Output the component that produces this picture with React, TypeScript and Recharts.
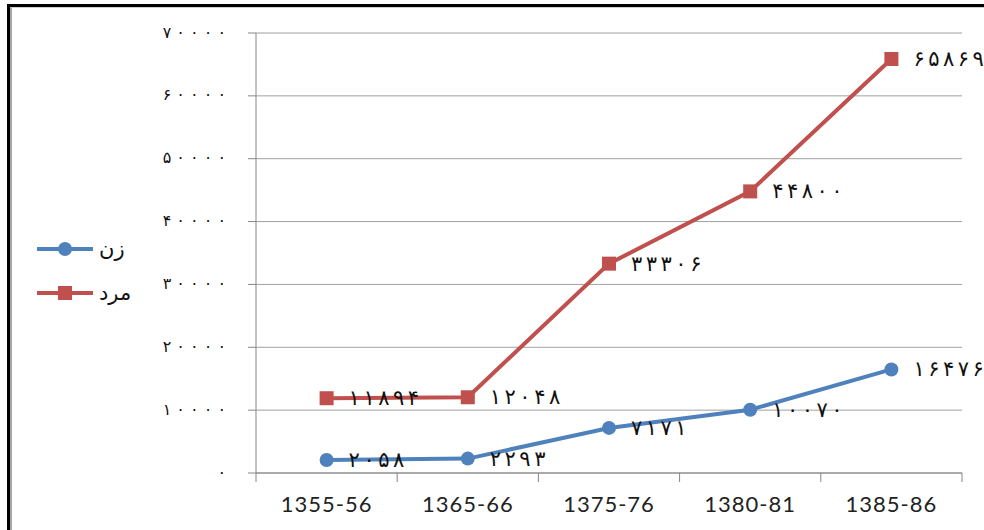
import { LineChart, Line, XAxis, YAxis, CartesianGrid, LabelList } from 'recharts';

const categories = ['1355-56', '1365-66', '1375-76', '1380-81', '1385-86'];
const women = [2058, 2293, 7171, 10070, 16476];
const men = [11894, 12048, 33306, 44800, 65869];
const yTicks = [0, 10000, 20000, 30000, 40000, 50000, 60000, 70000];

const seriesNames = { women: 'زن', men: 'مرد' };
const BLUE = '#4F81BD';
const RED = '#C0504D';

const data = categories.map((c, i) => ({ period: c, women: women[i], men: men[i] }));

// Persian digits, spread apart the way the original renders them
const toPersian = (n: number, gap: string) =>
    String(n).split('').map((d) => '۰۱۲۳۴۵۶۷۸۹'[+d]).join(gap);

const PLOT_WIDTH = 706;
const HALF_BAND = PLOT_WIDTH / categories.length / 2;

function XTick(props: any) {
    const { x, y, payload, index } = props;
    return (
        <g>
            <line x1={x - HALF_BAND} y1={y} x2={x - HALF_BAND} y2={y + 9} stroke="#868686" />
            {index === categories.length - 1 && (
                <line x1={x + HALF_BAND} y1={y} x2={x + HALF_BAND} y2={y + 9} stroke="#868686" />
            )}
            <text x={x} y={y + 33} textAnchor="middle" dominantBaseline="middle"
                fontFamily="Lato, 'Open Sans', sans-serif" fontSize={22} style={{ letterSpacing: '1px' }} fill="#222">
                {payload.value}
            </text>
        </g>
    );
}

function YTick(props: any) {
    const { x, y, payload } = props;
    return (
        <text x={x} y={y} textAnchor="end" dominantBaseline="middle"
            fontFamily="'DejaVu Sans', sans-serif" fontSize={16} fill="#111">
            {toPersian(payload.value, ' ')}
        </text>
    );
}

function PointLabel(props: any) {
    const { x, y, value } = props;
    return (
        <text x={x + 22} y={y + 1} textAnchor="start" dominantBaseline="middle"
            fontFamily="'DejaVu Sans', sans-serif" fontSize={21} fill="#111">
            {toPersian(value, '\u2006')}
        </text>
    );
}

function LegendItem({ color, name, square }: { color: string; name: string; square?: boolean }) {
    return (
        <div style={{ display: 'flex', alignItems: 'center', height: 24 }}>
            <svg width={58} height={16}>
                <line x1={0} y1={8} x2={56} y2={8} stroke={color} strokeWidth={4} />
                {square
                    ? <rect x={21} y={1} width={14} height={14} fill={color} />
                    : <circle cx={28} cy={8} r={7} fill={color} />}
            </svg>
            <span style={{ fontFamily: "'DejaVu Sans', sans-serif", fontSize: 21, marginLeft: 4, color: '#111' }}>{name}</span>
        </div>
    );
}

export default function App() {
    return (
        <div style={{ position: 'absolute', left: 0, top: 0, width: 984, height: 530, background: '#fff', overflow: 'hidden' }}>
            <div style={{ position: 'absolute', left: 7, top: 4, width: 990, height: 540, borderLeft: '3px solid #000', borderTop: '3px solid #000' }}>
                <div style={{ width: '100%', height: '100%', borderLeft: '2px solid #a6a6a6', borderTop: '1px solid #d0d0d0' }} />
            </div>
            <div style={{ position: 'absolute', left: 0, top: 0 }}>
                <LineChart width={984} height={530} data={data} margin={{ top: 33, right: 22, bottom: 0, left: 0 }}>
                    <CartesianGrid vertical={false} stroke="#a0a0a0" />
                    <XAxis dataKey="period" scale="band" height={57} stroke="#868686" tickLine={false} tickSize={0} tickMargin={0}
                        tick={<XTick />} interval={0} />
                    <YAxis width={256} domain={[0, 70000]} ticks={yTicks} stroke="#868686" tickSize={8} tickMargin={22}
                        tick={<YTick />} />
                    <Line dataKey="women" name={seriesNames.women} stroke={BLUE} strokeWidth={4} isAnimationActive={false}
                        dot={{ r: 7, fill: BLUE, stroke: BLUE, strokeWidth: 0 }} activeDot={false}>
                        <LabelList dataKey="women" content={<PointLabel />} />
                    </Line>
                    <Line dataKey="men" name={seriesNames.men} stroke={RED} strokeWidth={4} isAnimationActive={false}
                        dot={(p: any) => <rect key={p.index} x={p.cx - 7} y={p.cy - 7} width={14} height={14} fill={RED} />}
                        activeDot={false}>
                        <LabelList dataKey="men" content={<PointLabel />} />
                    </Line>
                </LineChart>
            </div>
            <div style={{ position: 'absolute', left: 37, top: 237 }}>
                <LegendItem color={BLUE} name={seriesNames.women} />
                <div style={{ height: 20 }} />
                <LegendItem color={RED} name={seriesNames.men} square />
            </div>
        </div>
    );
}
